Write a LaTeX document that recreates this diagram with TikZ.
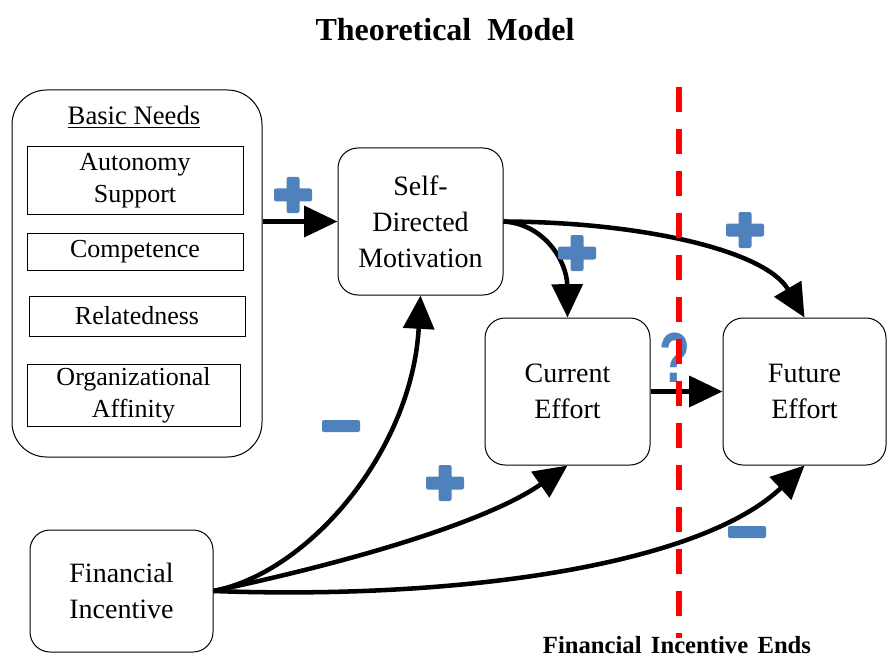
\documentclass[tikz,border=0pt]{standalone}
\usepackage{fontspec}
\setmainfont{Liberation Serif}
\setsansfont{Liberation Sans}
\usetikzlibrary{arrows.meta}

\definecolor{signblue}{RGB}{79,129,189}

\tikzset{every picture/.style={line width=0.75pt}}
\tikzset{
	bigbox/.style={draw, rounded corners=15pt, minimum width=123.75pt, minimum height=110.25pt, align=center, inner sep=0pt, font=\fontsize{21}{27}\selectfont},
	needbox/.style={draw, minimum width=162pt, align=center, inner sep=0pt, font=\fontsize{19.5}{24}\selectfont},
	link/.style={line width=3.4pt, -{Triangle[length=25pt,width=23pt]}},
	plussign/.pic={\fill[signblue, rounded corners=1.5pt] (-19,-6.5) rectangle (19,6.5) (-6.5,-18) rectangle (6.5,18);},
	minussign/.pic={\fill[signblue, rounded corners=1.5pt] (-19,-6) rectangle (19,6);}
}

\begin{document}
\begin{tikzpicture}[x=0.75pt,y=0.75pt,yscale=-1,xscale=1]
		\useasboundingbox (0,0) rectangle (887,659);
		
		%Title
		\node [font=\fontsize{24}{28}\bfseries\selectfont] (title) at (445,30) {Theoretical\ \ Model};
		
		%Shape: Rounded Rectangle [basic needs]
		\node [draw, rounded corners=26pt, minimum width=187.5pt, minimum height=275.25pt] (basic) at (137,273.5) {};
		\node [font=\fontsize{20}{24}\selectfont, inner sep=0pt] (basictitle) at (134,117) {\underline{Basic Needs}};
		\node [needbox, minimum height=50.25pt] (autonomy) at (135,180.5) {Autonomy\\Support};
		\node [needbox, minimum height=27.75pt] (competence) at (135,251.5) {Competence};
		\node [needbox, minimum height=30pt] (relatedness) at (137,316) {Relatedness};
		\node [needbox, minimum width=159.75pt, minimum height=46.5pt] (affinity) at (133.5,395) {Organizational\\Affinity};
		
		%Shape: Rounded Rectangles
		\node [bigbox] (sdm) at (420.5,221.5) {Self-\\Directed\\Motivation};
		\node [bigbox] (current) at (567.5,391.5) {Current\\Effort};
		\node [bigbox, minimum width=122.25pt] (future) at (804.5,391.5) {Future\\Effort};
		\node [bigbox, minimum width=137.25pt, minimum height=91.5pt] (finc) at (121.5,591) {Financial\\Incentive};
		
		%Arrows
		\draw [link] (sdm.west -| basic.east) -- (sdm.west);
		\draw [link] (sdm.east) .. controls (640,222) and (765,250) .. (future.north);
		\draw [link] (sdm.east) .. controls (545,224) and (567,262) .. (current.north);
		\draw [link] (current.east) -- (future.west);
		\draw [link] (finc.east) .. controls (310,572) and (412,450) .. (sdm.south);
		\draw [link] (finc.east) .. controls (360,560) and (490,520) .. (current.south);
		\draw [link] (finc.east) .. controls (460,600) and (700,565) .. (future.south);
		
		%Signs
		\pic at (293,195) {plussign};
		\pic at (577,253) {plussign};
		\pic at (745,230) {plussign};
		\pic at (445,483) {plussign};
		\pic at (341,426) {minussign};
		\pic at (747,532) {minussign};
		\node [text=signblue, font=\fontsize{28}{28}\bfseries\sffamily\selectfont, inner sep=0pt] (qmark) at (675,358) {\scalebox{1.35}[1.9]{?}};
		
		%Dashed line: financial incentive ends
		\coordinate (endtop) at (679,87);
		\coordinate (endbot) at (679,638);
		\draw [red, line width=4.5pt, dash pattern=on 18.75pt off 12.75pt] (endtop) -- (endbot);
		\node [font=\fontsize{18.5}{22}\bfseries\selectfont, inner sep=0pt] (ends) at (677,645) {Financial\hspace{7pt}Incentive\hspace{7pt}Ends};
		
	\end{tikzpicture}
\end{document}
